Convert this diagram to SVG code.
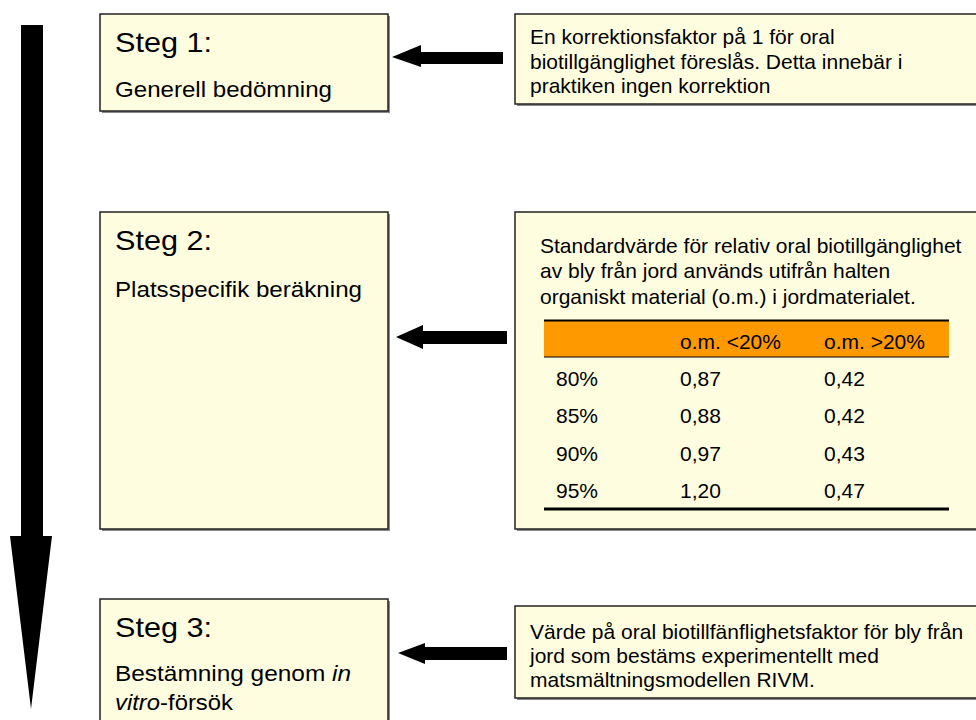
<svg xmlns="http://www.w3.org/2000/svg" width="976" height="720" viewBox="0 0 976 720">
<style>
.box{fill:#FFFDDF;stroke:#222;stroke-width:1.5}
.sh{fill:#888}
.t{font-family:"Liberation Sans",Arial,sans-serif;fill:#000}
.h{font-size:28px}
.s{font-size:22px}
.r{font-size:21px}
.arr{fill:#000}
</style>
<g id="flow-arrow"><polygon class="arr" points="21,25 43,25 43,536 52,536 31,709 10,536 21,536"/></g>
<g id="step1">
<rect class="sh" x="102" y="16" width="288" height="97"/>
<rect class="box" x="100" y="14" width="288" height="97"/>
<text class="t h" x="115" y="52" textLength="97" lengthAdjust="spacingAndGlyphs">Steg 1:</text>
<text class="t s" x="115" y="97" textLength="217" lengthAdjust="spacingAndGlyphs">Generell bedömning</text>
</g>
<g id="note1">
<rect class="sh" x="517" y="16" width="470" height="90"/>
<rect class="box" x="515" y="14" width="470" height="90"/>
<text class="t r" x="530" y="44">En korrektionsfaktor på 1 för oral</text>
<text class="t r" x="530" y="69">biotillgänglighet föreslås. Detta innebär i</text>
<text class="t r" x="530" y="93">praktiken ingen korrektion</text>
</g>
<g id="step2">
<rect class="sh" x="102" y="214" width="288" height="317"/>
<rect class="box" x="100" y="212" width="288" height="317"/>
<text class="t h" x="115" y="250" textLength="97" lengthAdjust="spacingAndGlyphs">Steg 2:</text>
<text class="t s" x="115" y="297" textLength="247" lengthAdjust="spacingAndGlyphs">Platsspecifik beräkning</text>
</g>
<g id="note2">
<rect class="sh" x="517" y="214" width="470" height="317"/>
<rect class="box" x="515" y="212" width="470" height="317"/>
<text class="t r" x="540" y="253">Standardvärde för relativ oral biotillgänglighet</text>
<text class="t r" x="540" y="278">av bly från jord används utifrån halten</text>
<text class="t r" x="540" y="304">organiskt material (o.m.) i jordmaterialet.</text>
<rect x="544" y="320" width="405" height="37" fill="#FF9900"/>
<line x1="544" y1="320.5" x2="949" y2="320.5" stroke="#000" stroke-width="2"/>
<line x1="544" y1="357" x2="949" y2="357" stroke="#000" stroke-width="1"/>
<line x1="544" y1="509" x2="949" y2="509" stroke="#000" stroke-width="3"/>
<text class="t r" x="680" y="349">o.m. &lt;20%</text>
<text class="t r" x="824" y="349">o.m. &gt;20%</text>
<text class="t r" x="556" y="386">80%</text><text class="t r" x="680" y="386">0,87</text><text class="t r" x="824" y="386">0,42</text>
<text class="t r" x="556" y="423">85%</text><text class="t r" x="680" y="423">0,88</text><text class="t r" x="824" y="423">0,42</text>
<text class="t r" x="556" y="461">90%</text><text class="t r" x="680" y="461">0,97</text><text class="t r" x="824" y="461">0,43</text>
<text class="t r" x="556" y="498">95%</text><text class="t r" x="680" y="498">1,20</text><text class="t r" x="824" y="498">0,47</text>
</g>
<g id="step3">
<rect class="sh" x="102" y="601" width="288" height="140"/>
<rect class="box" x="100" y="599" width="288" height="140"/>
<text class="t h" x="115" y="637" textLength="97" lengthAdjust="spacingAndGlyphs">Steg 3:</text>
<text class="t s" x="115" y="681" textLength="236" lengthAdjust="spacingAndGlyphs">Bestämning genom <tspan font-style="italic">in</tspan></text>
<text class="t s" x="115" y="710" textLength="118" lengthAdjust="spacingAndGlyphs"><tspan font-style="italic">vitro</tspan>-försök</text>
</g>
<g id="note3">
<rect class="sh" x="517" y="608" width="470" height="92"/>
<rect class="box" x="515" y="606" width="470" height="92"/>
<text class="t r" x="530" y="639">Värde på oral biotillfänflighetsfaktor för bly från</text>
<text class="t r" x="530" y="663">jord som bestäms experimentellt med</text>
<text class="t r" x="530" y="687">matsmältningsmodellen RIVM.</text>
</g>
<g id="connectors">
<polygon class="arr" points="503,52 421,52 421,45 392,57 421,67 421,64 503,64"/>
<polygon class="arr" points="507,331 423,331 423,325 396,337 423,349 423,344 507,344"/>
<polygon class="arr" points="507,647 425,647 425,643 398,653 425,664 425,660 507,660"/>
</g>
</svg>
